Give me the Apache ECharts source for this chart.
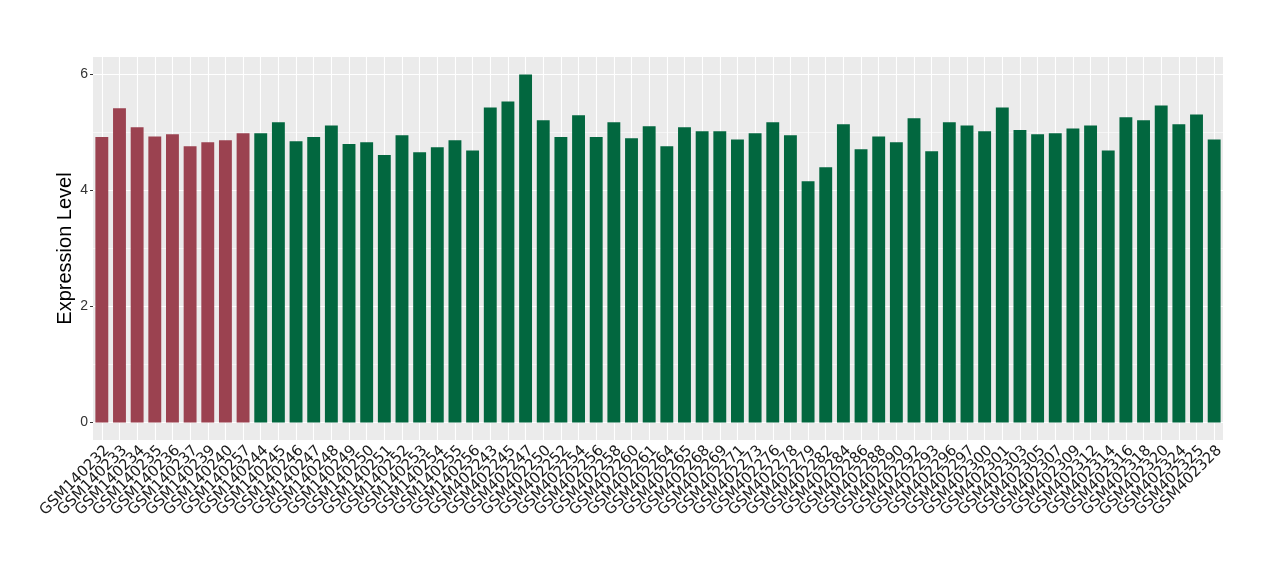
<!DOCTYPE html>
<html>
<head>
<meta charset="utf-8">
<script src="https://cdn.jsdelivr.net/npm/echarts@6/dist/echarts.min.js"></script>
<style>html,body{margin:0;padding:0;background:#fff}#c{width:1280px;height:580px}</style>
</head>
<body>
<div id="c"></div>
<script>
const groupA = ["GSM140232","GSM140233","GSM140234","GSM140235","GSM140236","GSM140237","GSM140239","GSM140240","GSM140257"];
const groupAValues = [4.92,5.415,5.09,4.93,4.97,4.76,4.83,4.865,4.985];
const groupB = ["GSM140244","GSM140245","GSM140246","GSM140247","GSM140248","GSM140249","GSM140250","GSM140251","GSM140252","GSM140253","GSM140254","GSM140255","GSM140256",
"GSM402243","GSM402245","GSM402247","GSM402250","GSM402252","GSM402254","GSM402256","GSM402258","GSM402260","GSM402261","GSM402264","GSM402265","GSM402268","GSM402269","GSM402271","GSM402273","GSM402276","GSM402278","GSM402279","GSM402282","GSM402284","GSM402286","GSM402288","GSM402290","GSM402292","GSM402293","GSM402296","GSM402297","GSM402300","GSM402301","GSM402303","GSM402305","GSM402307","GSM402309","GSM402312","GSM402314","GSM402316","GSM402318","GSM402320","GSM402324","GSM402325","GSM402328"];
const groupBValues = [4.985,5.175,4.85,4.92,5.12,4.80,4.83,4.61,4.95,4.66,4.745,4.865,4.69,
5.43,5.535,6.0,5.21,4.92,5.295,4.92,5.175,4.90,5.105,4.76,5.09,5.02,5.02,4.88,4.985,5.175,4.95,4.16,4.40,5.14,4.71,4.93,4.83,5.245,4.675,5.175,5.12,5.02,5.43,5.04,4.97,4.985,5.07,5.12,4.69,5.26,5.21,5.465,5.14,5.31,4.88];
const yTicks = [0,2,4,6];
const yMinor = [1,3,5];
const colorA = "#9B4250";
const colorB = "#02673F";

const categories = groupA.concat(groupB);
const barData = groupAValues.map(v => ({value: v, itemStyle: {color: colorA}}))
  .concat(groupBValues.map(v => ({value: v, itemStyle: {color: colorB}})));

const gridLines = []
  .concat(categories.map(c => ({xAxis: c, lineStyle: {width: 1.1}})))
  .concat(yTicks.map(v => ({yAxis: v, lineStyle: {width: 1.1}})))
  .concat(yMinor.map(v => ({yAxis: v, lineStyle: {width: 0.55}})));

const font = "Liberation Sans";
const chart = echarts.init(document.getElementById('c'));
chart.setOption({
  animation: false,
  textStyle: {fontFamily: font},
  grid: {left: 93, right: 57, top: 57, bottom: 140, show: true, backgroundColor: '#EBEBEB', borderWidth: 0},
  xAxis: {
    type: 'category', data: categories, boundaryGap: true,
    axisLine: {show: false},
    axisTick: {show: true, alignWithLabel: true, length: 3, lineStyle: {color: '#333333'}},
    axisLabel: {interval: 0, rotate: 45, fontSize: 15, color: '#1a1a1a', margin: 3,
      align: 'right', verticalAlign: 'top', fontFamily: 'DejaVu Sans'},
    splitLine: {show: false}
  },
  yAxis: {
    type: 'value', min: -0.3, max: 6.3,
    name: 'Expression Level', nameLocation: 'middle', nameGap: 18, nameMoveOverlap: false,
    nameTextStyle: {fontSize: 20, color: '#000', fontFamily: font},
    axisLine: {show: false},
    axisTick: {show: true, length: 3, customValues: yTicks, lineStyle: {color: '#333333'}},
    axisLabel: {customValues: yTicks, fontSize: 14, color: '#333333', margin: 5, fontFamily: font},
    splitLine: {show: false}
  },
  series: [
    {
      type: 'bar', data: barData, barCategoryGap: '27%', z: 3,
      markLine: {
        silent: true, symbol: 'none', z: 1, animation: false,
        label: {show: false},
        lineStyle: {color: '#FFFFFF', type: 'solid', width: 1.1},
        emphasis: {disabled: true},
        data: gridLines
      }
    }
  ]
});
</script>
</body>
</html>
